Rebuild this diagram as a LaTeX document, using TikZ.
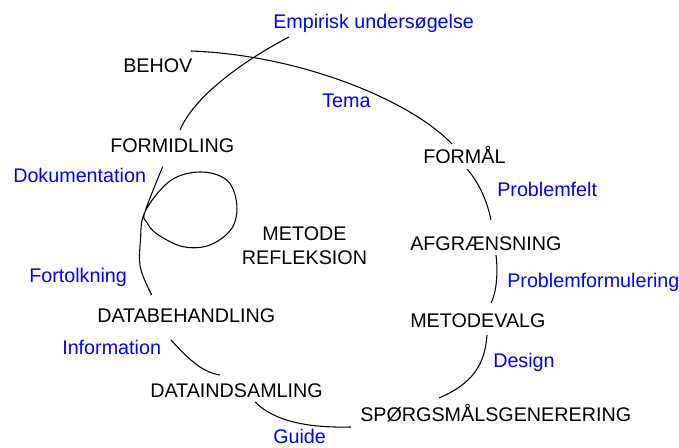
\documentclass[tikz,border=0pt]{standalone}
\usepackage{fontspec}
\setmainfont{Liberation Sans}
\begin{document}
\begin{tikzpicture}[x=0.75pt,y=-0.75pt,
  lbl/.style={inner sep=0pt,anchor=base west,font=\fontsize{14.8}{17}\selectfont},
  stage/.style={lbl,text=black},
  aspect/.style={lbl,text=blue},
  arc/.style={draw=black,line width=0.8pt}]
\useasboundingbox (0,0) rectangle (679,448);

% phases of the process
\node[stage] (behov)  at (123,73)  {BEHOV};
\node[stage] (formid) at (110,153) {FORMIDLING};
\node[stage] (formaal) at (423,164) {FORMÅL};
\node[stage] (afgr)   at (410,251) {AFGRÆNSNING};
\node[stage] (mvalg)  at (410,328) {METODEVALG};
\node[stage] (spg)    at (360,422) {SPØRGSMÅLSGENERERING};
\node[stage] (dind)   at (150,398) {DATAINDSAMLING};
\node[stage] (dbeh)   at (97,323)  {DATABEHANDLING};
\node[stage,anchor=base,align=center] (refl) at (304.5,265) {METODE\\[1pt]REFLEKSION};

% what each step yields
\node[aspect] (emp)  at (273,29)  {Empirisk undersøgelse};
\node[aspect] (tema) at (322,108) {Tema};
\node[aspect] (pfelt) at (497,197) {Problemfelt};
\node[aspect] (pform) at (507,288) {Problemformulering};
\node[aspect] (design) at (493,368) {Design};
\node[aspect] (guide) at (273,444) {Guide};
\node[aspect] (info) at (62,355)  {Information};
\node[aspect] (fort) at (29,283)  {Fortolkning};
\node[aspect] (dok)  at (13,183)  {Dokumentation};

% end points of the arcs
\coordinate (a1) at (191,51);  \coordinate (b1) at (452,144);
\coordinate (a2) at (289,37);  \coordinate (b2) at (180,130);
\coordinate (a3) at (467,169); \coordinate (b3) at (491,220);
\coordinate (a4) at (496,255); \coordinate (b4) at (491,303);
\coordinate (a5) at (487,335); \coordinate (b5) at (439,398);
\coordinate (a6) at (351,427); \coordinate (b6) at (255,402);
\coordinate (a7) at (220,375); \coordinate (b7) at (171,340);
\coordinate (lt) at (162.7,166.7); \coordinate (lx) at (145,211.7);
\coordinate (lb) at (151.7,295);

\draw[arc] (a1) .. controls (300,55) and (410,100) .. (b1);
\draw[arc] (a2) .. controls (245,60) and (195,95) .. (b2);
\draw[arc] (a3) .. controls (481,185) and (488,205) .. (b3);
\draw[arc] (a4) .. controls (498,270) and (497,292) .. (b4);
\draw[arc] (a5) .. controls (485,365) and (472,384) .. (b5);
\draw[arc] (a6) .. controls (310,428) and (275,422) .. (b6);
\draw[arc] (a7) .. controls (200,372) and (185,355) .. (b7);

% the reflection loop
\draw[arc] plot[smooth,tension=0.6] coordinates {
  (lt) (lx) (146.7,222) (157,234) (183,246.7) (210,245) (232,228)
  (236.7,203.3) (226.7,180) (200,172) (170,181) (lx)
  (140.5,240) (140.5,268) (lb)};
\end{tikzpicture}
\end{document}
